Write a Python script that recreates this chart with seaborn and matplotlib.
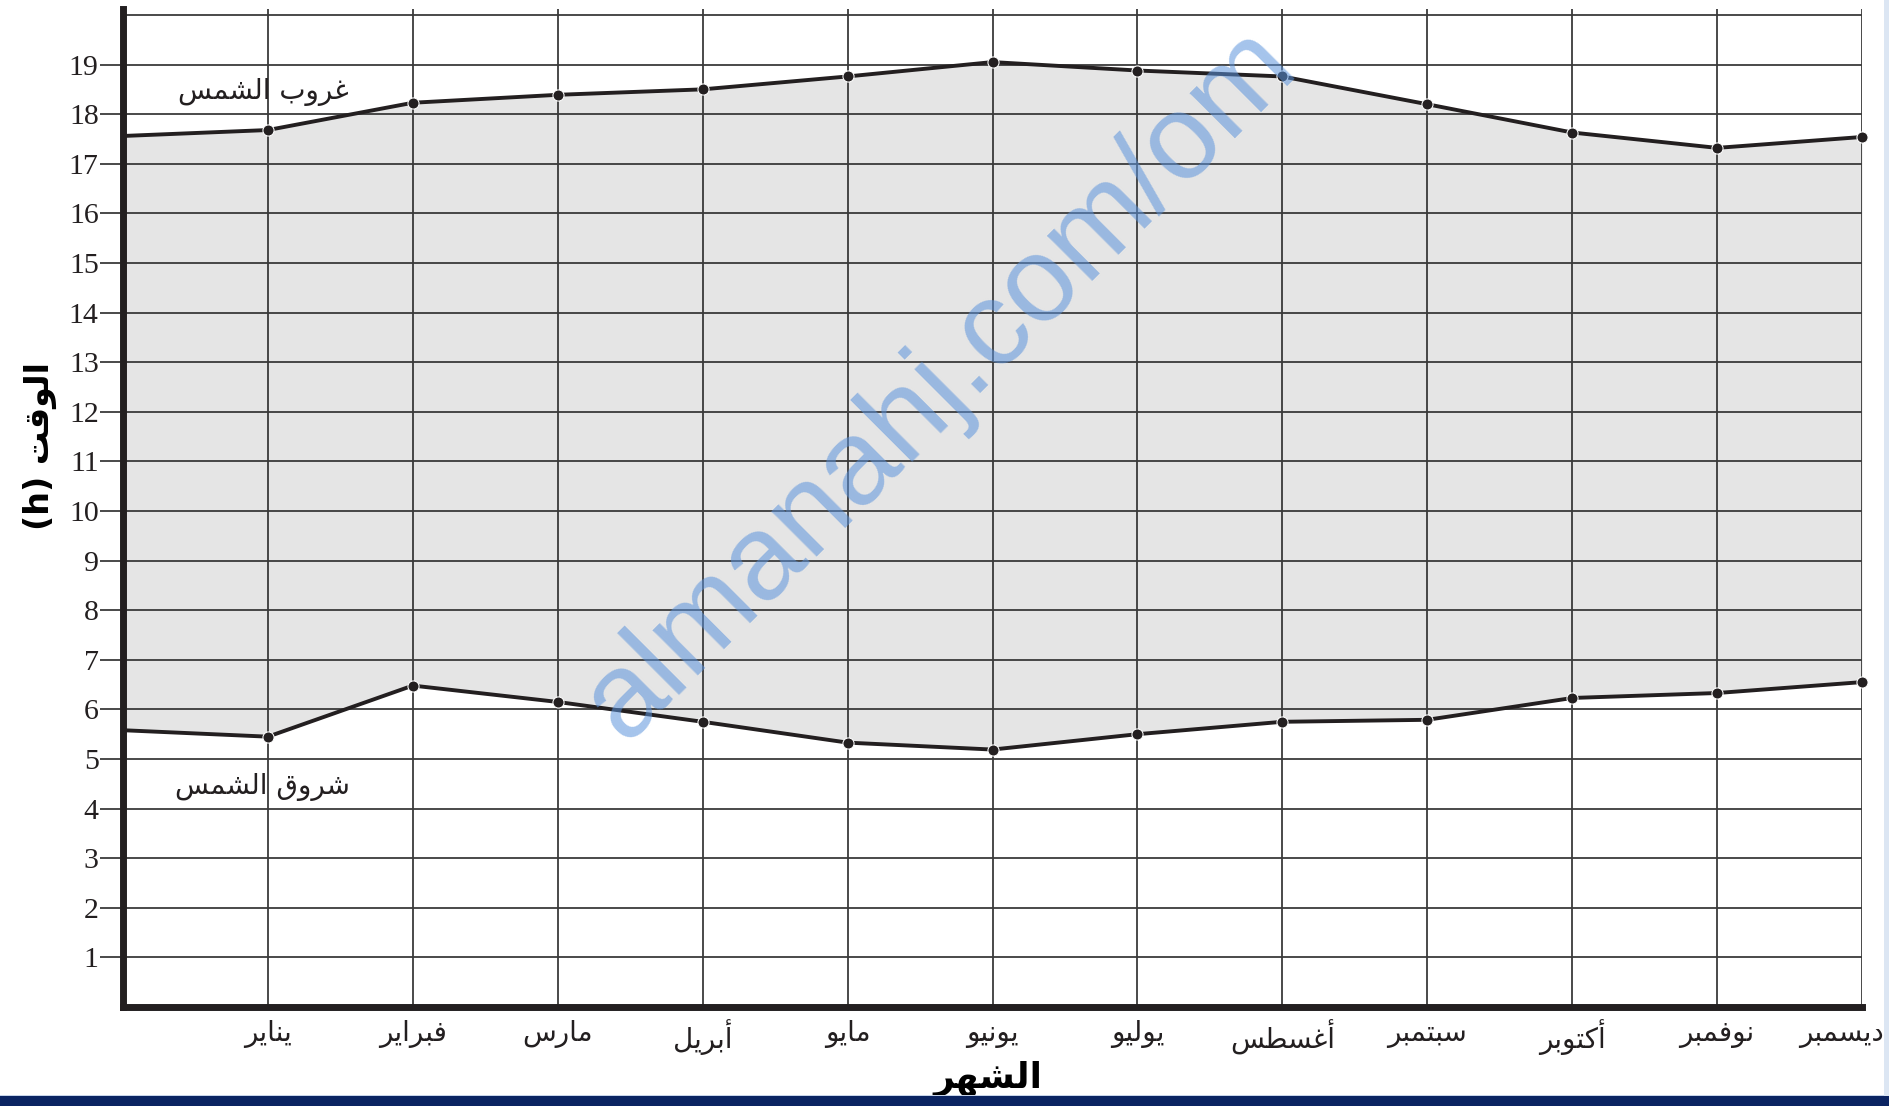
import numpy as np
import pandas as pd
import matplotlib
matplotlib.use("Agg")
import matplotlib.pyplot as plt
import seaborn as sns
from matplotlib.patches import Rectangle
from matplotlib.transforms import ScaledTranslation

# ---------------- data ----------------
month_pos = [0, 1, 2, 3, 4, 5, 6, 7, 8, 9, 10, 11, 12]          # 0 = start of the year (left edge)
month_labels = ["يناير", "فبراير", "مارس", "أبريل", "مايو", "يونيو",
                "يوليو", "أغسطس", "سبتمبر", "أكتوبر", "نوفمبر", "ديسمبر"]
sunset = [17.56, 17.68, 18.23, 18.39, 18.50, 18.76, 19.05, 18.88, 18.76, 18.20, 17.63, 17.32, 17.54]
sunrise = [5.58, 5.45, 6.48, 6.15, 5.75, 5.33, 5.19, 5.50, 5.75, 5.79, 6.23, 6.33, 6.55]
y_ticks = list(range(1, 20))
sunset_label = "غروب الشمس"
sunrise_label = "شروق الشمس"
x_title = "الشهر"
y_title = "الوقت (h)"
watermark = "almanahj.com/om"

# ------------- minimal Arabic shaping (matplotlib has no complex text layout) -------------
DUAL = {'ب': 0xFE8F, 'ت': 0xFE95, 'س': 0xFEB1, 'ش': 0xFEB5, 'ط': 0xFEC1, 'غ': 0xFECD,
        'ف': 0xFED1, 'ق': 0xFED5, 'ك': 0xFED9, 'ل': 0xFEDD, 'م': 0xFEE1, 'ن': 0xFEE5,
        'ه': 0xFEE9, 'ي': 0xFEF1}
RIGHT = {'ا': 0xFE8D, 'أ': 0xFE83, 'د': 0xFEA9, 'ر': 0xFEAD, 'و': 0xFEED}


def shape_word(word):
    if not any(c in DUAL or c in RIGHT for c in word):
        return word
    out = []
    for i, c in enumerate(word):
        if c not in DUAL and c not in RIGHT:
            out.append(c)
            continue
        prev = word[i - 1] if i > 0 else None
        nxt = word[i + 1] if i + 1 < len(word) else None
        jp = prev in DUAL
        jn = (c in DUAL) and (nxt in DUAL or nxt in RIGHT)
        base = DUAL.get(c, RIGHT.get(c))
        if jp and jn:
            code = base + 3
        elif jp:
            code = base + 1
        elif jn:
            code = base + 2
        else:
            code = base
        out.append(chr(code))
    return ''.join(reversed(out))


def visual(text):
    return ' '.join(shape_word(w) for w in reversed(text.split(' ')))


# ---------------- style ----------------
sns.set_theme(style="white")
plt.rcParams['font.family'] = ['Liberation Serif', 'DejaVu Sans']
ARABIC = ['DejaVu Sans']
INK = '#231f20'
GRID = '#3a3a3a'

df = pd.DataFrame({
    'month': month_pos * 2,
    'time': sunset + sunrise,
    'event': ['sunset'] * len(month_pos) + ['sunrise'] * len(month_pos),
})

fig = plt.figure(figsize=(18.89, 11.06), dpi=100)
ax = fig.add_axes([123 / 1889, 1 - 1007 / 1106, (1862 - 123) / 1889, (1007 - 9) / 1106])

ax.fill_between(month_pos, sunrise, sunset, color='#e5e5e5', zorder=1, linewidth=0)

sns.lineplot(data=df, x='month', y='time', hue='event', palette={'sunset': INK, 'sunrise': INK},
             estimator=None, marker='o', markersize=8, markevery=list(range(1, 13)),
             linewidth=2.8, legend=False, ax=ax, zorder=4, clip_on=False)

ax.set_xlim(0, 12)
ax.set_ylim(0, 20.12)
ax.set_xticks(range(1, 13))
ax.set_xticklabels([visual(m) for m in month_labels], fontfamily=ARABIC, fontsize=20, color=INK)
ax.set_yticks(y_ticks)
ax.set_yticklabels([str(v) for v in y_ticks], fontsize=21.5, color=INK)
ax.tick_params(axis='y', direction='out', length=16.5, width=1.3, color=GRID, pad=1, left=True)
ax.tick_params(axis='x', length=0, pad=9)

ax.grid(True, color=GRID, linewidth=1.3, zorder=2)
ax.set_axisbelow(False)
for gl in ax.get_xgridlines() + ax.get_ygridlines():
    gl.set_zorder(2)
ax.axhline(20, color=GRID, linewidth=1.3, zorder=2)

for s in ['top', 'right']:
    ax.spines[s].set_visible(False)
for s in ['left', 'bottom']:
    ax.spines[s].set_linewidth(5)
    ax.spines[s].set_color(INK)
    ax.spines[s].set_zorder(5)
ax.set_xlabel('')
ax.set_ylabel('')

# the last month label sits a little to the left so it stays inside the page
last = ax.get_xticklabels()[-1]
last.set_transform(last.get_transform() + ScaledTranslation(-0.2, 0, fig.dpi_scale_trans))

ax.text(0.97, 18.45, visual(sunset_label), fontfamily=ARABIC, fontsize=20, color=INK,
        ha='center', va='center', zorder=6)
ax.text(0.96, 4.44, visual(sunrise_label), fontfamily=ARABIC, fontsize=20, color=INK,
        ha='center', va='center', zorder=6)

ax.text(5.64, 12.56, watermark, fontfamily='Liberation Sans', fontsize=87, color='#5b93dc',
        alpha=0.55, rotation=45, rotation_mode='anchor', ha='center', va='center', zorder=7)

fig.text(40 / 1889, 1 - 446 / 1106, visual(y_title), rotation=90, ha='center', va='center',
         fontsize=24, fontweight='bold', fontfamily=ARABIC, color='black')
fig.text(988 / 1889, 1 - 1061 / 1106, visual(x_title), ha='center', va='top',
         fontsize=26, fontweight='bold', fontfamily=ARABIC, color='black')

# page frame strips (bottom navy band, right pale band)
fig.patches.append(Rectangle((0, 0), 1, 10 / 1106, transform=fig.transFigure,
                             facecolor='#0b2462', edgecolor='none', zorder=20))
fig.patches.append(Rectangle((0, 10 / 1106), 1, 1.5 / 1106, transform=fig.transFigure,
                             facecolor='#c8d5ea', edgecolor='none', zorder=20))
fig.patches.append(Rectangle((1884 / 1889, 10 / 1106), 5 / 1889, 1, transform=fig.transFigure,
                             facecolor='#dce6f3', edgecolor='none', zorder=20))

fig.savefig('out.png', dpi=100)
